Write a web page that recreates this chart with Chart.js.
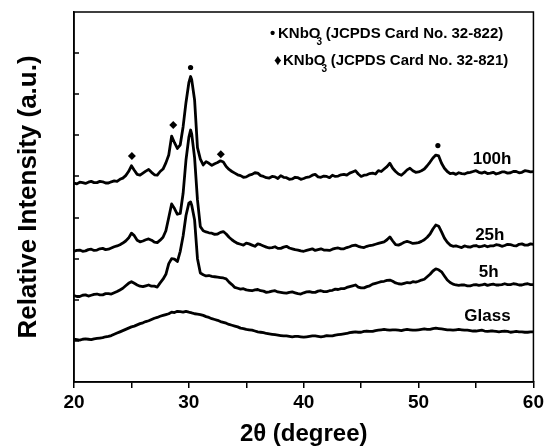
<!DOCTYPE html>
<html>
<head>
<meta charset="utf-8">
<title>XRD patterns</title>
<script src="https://cdn.jsdelivr.net/npm/chart.js@4.4.1/dist/chart.umd.min.js"></script>
<style>
    html, body { margin: 0; padding: 0; background: #fff; }
    canvas { display: block; }
</style>
</head>
<body>
<canvas id="xrdChart" width="547" height="446"></canvas>
<script>
// 2theta positions (degree), shared by all patterns
const twoTheta = [
    20, 20.25, 20.5, 20.75, 21, 21.25, 21.5, 21.75,
    22, 22.25, 22.5, 22.75, 23, 23.25, 23.5, 23.75,
    24, 24.25, 24.5, 24.75, 25, 25.25, 25.5, 25.75,
    26, 26.25, 26.5, 26.75, 27, 27.25, 27.5, 27.75,
    28, 28.25, 28.5, 28.75, 29, 29.25, 29.5, 29.75,
    30, 30.15, 30.25, 30.5, 30.75, 31, 31.25, 31.5, 31.75,
    32, 32.25, 32.5, 32.75, 33, 33.25, 33.5, 33.75,
    34, 34.25, 34.5, 34.75, 35, 35.25, 35.5, 35.75,
    36, 36.25, 36.5, 36.75, 37, 37.25, 37.5, 37.75,
    38, 38.25, 38.5, 38.75, 39, 39.25, 39.5, 39.75,
    40, 40.25, 40.5, 40.75, 41, 41.25, 41.5, 41.75,
    42, 42.25, 42.5, 42.75, 43, 43.25, 43.5, 43.75,
    44, 44.25, 44.5, 44.75, 45, 45.25, 45.5, 45.75,
    46, 46.25, 46.5, 46.75, 47, 47.25, 47.5, 47.75,
    48, 48.25, 48.5, 48.75, 49, 49.25, 49.5, 49.75,
    50, 50.25, 50.5, 50.75, 51, 51.25, 51.5, 51.75,
    52, 52.25, 52.5, 52.75, 53, 53.25, 53.5, 53.75,
    54, 54.25, 54.5, 54.75, 55, 55.25, 55.5, 55.75,
    56, 56.25, 56.5, 56.75, 57, 57.25, 57.5, 57.75,
    58, 58.25, 58.5, 58.75, 59, 59.25, 59.5, 59.75,
    60
];

// Intensities (a.u., curves already offset)
const h100 = [
    484, 482, 486, 485, 483, 486, 488, 485,
    485, 488, 487, 484, 484, 487, 489, 488,
    493, 496, 502, 512, 526, 515, 505, 503,
    508, 513, 517, 510, 504, 503, 512, 518,
    533, 552, 598, 582, 568, 577, 621, 680,
    728, 743, 735, 686, 570, 542, 528, 536, 532,
    527, 531, 534, 538, 535, 524, 517, 512,
    508, 504, 502, 498, 499, 503, 505, 509,
    508, 502, 500, 497, 496, 500, 499, 495,
    502, 498, 497, 493, 494, 498, 497, 493,
    495, 498, 499, 503, 505, 499, 498, 501,
    500, 497, 503, 500, 501, 504, 505, 503,
    508, 511, 514, 506, 500, 503, 504, 507,
    508, 506, 514, 512, 518, 524, 532, 520,
    512, 506, 503, 509, 516, 520, 514, 510,
    511, 514, 518, 526, 535, 545, 552, 550,
    532, 520, 512, 507, 508, 505, 509, 507,
    506, 509, 510, 512, 514, 510, 508, 511,
    507, 508, 510, 506, 508, 511, 511, 508,
    509, 512, 512, 509, 510, 514, 513, 511,
    512
];
const h25 = [
    318, 320, 321, 318, 319, 322, 323, 320,
    321, 324, 325, 322, 323, 326, 329, 331,
    334, 338, 343, 350, 362, 356, 345, 341,
    343, 346, 348, 345, 340, 339, 345, 352,
    368, 400, 433, 422, 408, 410, 459, 540,
    595, 613, 603, 545, 443, 378, 368, 365, 363,
    362, 359, 360, 364, 366, 360, 352, 346,
    341, 337, 335, 333, 338, 336, 333, 330,
    336, 334, 331, 328, 326, 327, 329, 325,
    325, 328, 330, 326, 324, 322, 321, 319,
    318, 320, 322, 324, 320, 322, 324, 321,
    321, 320, 323, 325, 326, 324, 324, 327,
    329, 332, 333, 330, 328, 327, 330, 332,
    333, 335, 337, 339, 341, 346, 353, 343,
    334, 333, 336, 340, 342, 340, 337, 338,
    339, 342, 346, 352, 360, 372, 382, 379,
    365, 350, 340, 333, 330, 331, 329, 327,
    331, 329, 328, 331, 332, 329, 330, 332,
    329, 331, 331, 334, 333, 330, 332, 335,
    334, 332, 331, 335, 336, 333, 333, 336,
    335
];
const h5 = [
    210, 208, 208, 211, 212, 209, 211, 213,
    214, 212, 212, 215, 215, 214, 217, 220,
    224, 228, 234, 240, 244, 240, 236, 233,
    232, 234, 236, 233, 233, 231, 241, 250,
    262, 288, 300, 299, 293, 318, 355, 405,
    435, 438, 430, 394, 300, 265, 261, 258, 259,
    257, 256, 255, 254, 253, 251, 243, 237,
    230, 228, 226, 227, 224, 223, 222, 224,
    225, 222, 221, 218, 219, 221, 222, 219,
    218, 217, 216, 218, 219, 217, 215, 214,
    217, 219, 220, 218, 218, 221, 222, 220,
    220, 222, 223, 226, 225, 227, 227, 230,
    232, 234, 236, 231, 229, 229, 232, 234,
    238, 240, 242, 244, 245, 247, 248, 245,
    241, 239, 238, 240, 242, 241, 244, 243,
    245, 248, 250, 256, 262, 270, 275, 273,
    268, 258, 248, 242, 238, 236, 235, 236,
    236, 234, 234, 236, 237, 235, 236, 238,
    235, 237, 238, 236, 236, 237, 239, 237,
    237, 239, 238, 236, 236, 238, 239, 237,
    237
];
const glass = [
    104, 103, 102, 104, 105, 104, 103, 105,
    106, 107, 108, 110, 111, 113, 116, 119,
    122, 125, 128, 131, 134, 136, 139, 142,
    144, 147, 149, 152, 155, 157, 160, 162,
    164, 166, 170, 169, 172, 171, 170, 172,
    170, 169, 168, 166, 165, 164, 162, 159, 157,
    154, 152, 150, 147, 145, 143, 140, 138,
    136, 134, 131, 130, 128, 127, 126, 124,
    122, 121, 120, 118, 117, 116, 115, 114,
    113, 112, 112, 111, 110, 111, 111, 110,
    109, 110, 111, 112, 112, 111, 110, 111,
    113, 112, 112, 114, 115, 116, 117, 118,
    120, 121, 122, 121, 121, 123, 124, 123,
    123, 125, 126, 127, 128, 127, 126, 127,
    127, 126, 125, 127, 128, 127, 126, 126,
    127, 128, 129, 128, 128, 130, 131, 130,
    129, 128, 127, 127, 126, 127, 128, 127,
    126, 126, 125, 124, 124, 125, 126, 124,
    123, 124, 124, 123, 122, 123, 124, 123,
    121, 122, 123, 122, 122, 121, 121, 122,
    122
];

// Peak markers: circle = card 32-822, diamond = card 32-821
const circleAngles = [30.15, 51.68];
const circleCounts = [765, 575];
const diamondAngles = [25.04, 28.64, 32.78];
const diamondCounts = [550, 625, 554];

// Curve names next to each pattern
const curveNames = ["100h", "25h", "5h", "Glass"];
const nameAngles = [56.4, 56.2, 56.1, 56.0];
const nameCounts = [542, 358, 266, 160];

// Legend lines
const legendSymbols = ["\u2022", "\u2666"];
const legendCards = [" (JCPDS Card No. 32-822)", " (JCPDS Card No. 32-821)"];

const FONT = "'Liberation Sans', Arial, Helvetica, sans-serif";

const toPoints = (xs, ys) => xs.map((x, i) => ({ x: x, y: ys[i] }));

const curve = (label, values) => ({
    label: label,
    data: toPoints(twoTheta, values),
    borderColor: "#000",
    borderWidth: 2.8,
    pointRadius: 0,
    tension: 0,
    borderJoinStyle: "round",
    fill: false,
});

// Frame, inward y ticks, curve names and legend
const decorPlugin = {
    id: "decor",
    afterDraw: (chart) => {
        const { ctx, chartArea: a, scales } = chart;
        const x = scales.x;
        const y = scales.y;
        ctx.save();
        ctx.strokeStyle = "#000";
        ctx.lineWidth = 1.5;
        ctx.strokeRect(a.left, a.top, a.right - a.left, a.bottom - a.top);

        y.ticks.forEach(t => {
            if (t.value <= y.min || t.value >= y.max) return;
            const py = Math.round(y.getPixelForValue(t.value));
            ctx.beginPath();
            ctx.moveTo(a.left, py);
            ctx.lineTo(a.left + 5, py);
            ctx.stroke();
        });

        ctx.fillStyle = "#000";
        ctx.textAlign = "center";
        ctx.textBaseline = "middle";
        ctx.font = `bold 17px ${FONT}`;
        curveNames.forEach((name, i) => {
            ctx.fillText(name, x.getPixelForValue(nameAngles[i]), y.getPixelForValue(nameCounts[i]));
        });

        // legend text at the top right
        ctx.textAlign = "left";
        const rows = [{ sx: 270, tx: 278, ty: 34 }, { sx: 274, tx: 283, ty: 61 }];
        rows.forEach((r, i) => {
            ctx.font = `bold 15px ${FONT}`;
            ctx.fillText(legendSymbols[i], r.sx, r.ty);
            ctx.fillText("KNbO", r.tx, r.ty);
            let px = r.tx + ctx.measureText("KNbO").width;
            ctx.font = `bold 10px ${FONT}`;
            ctx.fillText("3", px - 4, r.ty + 8);
            ctx.font = `bold 15px ${FONT}`;
            ctx.fillText(legendCards[i], px + 1, r.ty);
        });
        ctx.restore();
    },
};

const renderChart = () => {
    const ctx = document.getElementById("xrdChart").getContext("2d");

    new Chart(ctx, {
        type: "line",
        data: {
            datasets: [
                curve("100h", h100),
                curve("25h", h25),
                curve("5h", h5),
                curve("Glass", glass),
                {
                    label: "KNbO3 (JCPDS Card No. 32-822)",
                    data: toPoints(circleAngles, circleCounts),
                    showLine: false,
                    pointStyle: "circle",
                    pointRadius: 2.6,
                    backgroundColor: "#000",
                    borderWidth: 0,
                },
                {
                    label: "KNbO3 (JCPDS Card No. 32-821)",
                    data: toPoints(diamondAngles, diamondCounts),
                    showLine: false,
                    pointStyle: "rectRot",
                    pointRadius: 4,
                    backgroundColor: "#000",
                    borderWidth: 0,
                },
            ],
        },
        options: {
            responsive: false,
            animation: false,
            layout: { padding: { left: 0, right: 13, top: 12, bottom: 0 } },
            plugins: {
                legend: { display: false },
                tooltip: { enabled: false },
            },
            scales: {
                x: {
                    type: "linear",
                    min: 20,
                    max: 60,
                    afterFit: (s) => { s.height = 64; },
                    border: { display: true, color: "#000", width: 1.5 },
                    grid: { drawOnChartArea: false, drawTicks: true, tickLength: 6, color: "#000", lineWidth: 1.5 },
                    ticks: {
                        stepSize: 5,
                        autoSkip: false,
                        maxRotation: 0,
                        color: "#000",
                        padding: 3,
                        font: { family: FONT, size: 19, weight: "bold" },
                        callback: (v) => (v % 10 === 0 ? v : ""),
                    },
                    title: {
                        display: true,
                        text: "2\u03B8 (degree)",
                        color: "#000",
                        padding: { top: 0, bottom: 0 },
                        font: { family: FONT, size: 24, weight: "bold", lineHeight: 1 },
                    },
                },
                y: {
                    min: 0,
                    max: 900,
                    afterFit: (s) => { s.width = 74; },
                    border: { display: true, color: "#000", width: 1.5 },
                    grid: { display: false },
                    ticks: { display: false, stepSize: 100 },
                    title: {
                        display: true,
                        text: "Relative Intensity (a.u.)",
                        color: "#000",
                        padding: { top: 16, bottom: 0 },
                        font: { family: FONT, size: 26, weight: "bold", lineHeight: 1 },
                    },
                },
            },
        },
        plugins: [decorPlugin],
    });
};

document.addEventListener("DOMContentLoaded", renderChart);
</script>
</body>
</html>
